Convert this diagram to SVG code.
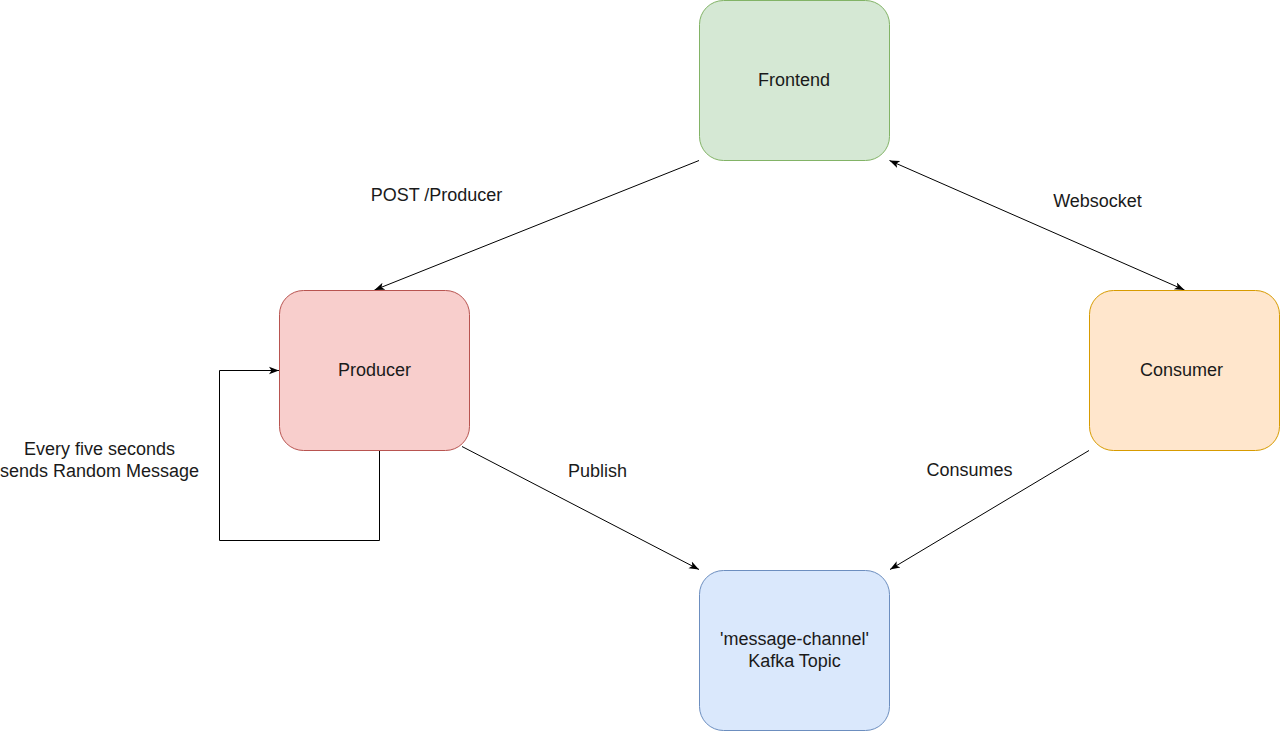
<svg xmlns="http://www.w3.org/2000/svg" width="1280" height="731" viewBox="0 0 1280 731">
  <style>
    text { font-family: "Liberation Sans", Arial, Helvetica, sans-serif; font-size: 18px; fill: #1a1a1a; text-anchor: middle; }
    .node rect { stroke-width: 1; }
    .edge { fill: none; stroke: #000; stroke-width: 1; }
  </style>
  <defs>
    <marker id="arrow" viewBox="0 0 10 10" refX="10" refY="5" markerWidth="10" markerHeight="10" markerUnits="userSpaceOnUse" orient="auto-start-reverse">
      <path d="M0,1.3 L10,5 L0,8.7 L2.5,5 Z" fill="#000"/>
    </marker>
  </defs>
  <rect width="1280" height="731" fill="#ffffff"/>

  <g id="connectors">
    <line class="edge" x1="699" y1="160.5" x2="374.5" y2="290" marker-end="url(#arrow)"/>
    <line class="edge" x1="889.5" y1="160.5" x2="1184.5" y2="290" marker-start="url(#arrow)" marker-end="url(#arrow)"/>
    <line class="edge" x1="462" y1="446.5" x2="699" y2="569.5" marker-end="url(#arrow)"/>
    <line class="edge" x1="1089" y1="450.5" x2="890" y2="569.5" marker-end="url(#arrow)"/>
    <polyline class="edge" points="379.5,450.5 379.5,540.5 219.5,540.5 219.5,370.5 279,370.5" marker-end="url(#arrow)"/>
  </g>

  <g id="node-frontend" class="node">
    <rect x="699.5" y="0.5" width="190" height="160" rx="24" ry="24" fill="#d5e8d4" stroke="#82b366"/>
    <text x="794" y="85.5">Frontend</text>
  </g>
  <g id="node-producer" class="node">
    <rect x="279.5" y="290.5" width="190" height="160" rx="24" ry="24" fill="#f8cecc" stroke="#b85450"/>
    <text x="374.5" y="375.5">Producer</text>
  </g>
  <g id="node-consumer" class="node">
    <rect x="1089.5" y="290.5" width="190" height="160" rx="24" ry="24" fill="#ffe6cc" stroke="#d79b00"/>
    <text x="1181.5" y="375.5">Consumer</text>
  </g>
  <g id="node-topic" class="node">
    <rect x="699.5" y="570.5" width="190" height="160" rx="24" ry="24" fill="#dae8fc" stroke="#6c8ebf"/>
    <text x="794.5" y="645">'message-channel'</text>
    <text x="794.5" y="666.5">Kafka Topic</text>
  </g>

  <g id="labels">
    <text x="436.5" y="200.5">POST /Producer</text>
    <text x="1097.5" y="206.5">Websocket</text>
    <text x="597.5" y="476.5">Publish</text>
    <text x="969.5" y="475.5">Consumes</text>
    <text x="99.5" y="455">Every five seconds</text>
    <text x="99.5" y="476.5">sends Random Message</text>
  </g>
</svg>
